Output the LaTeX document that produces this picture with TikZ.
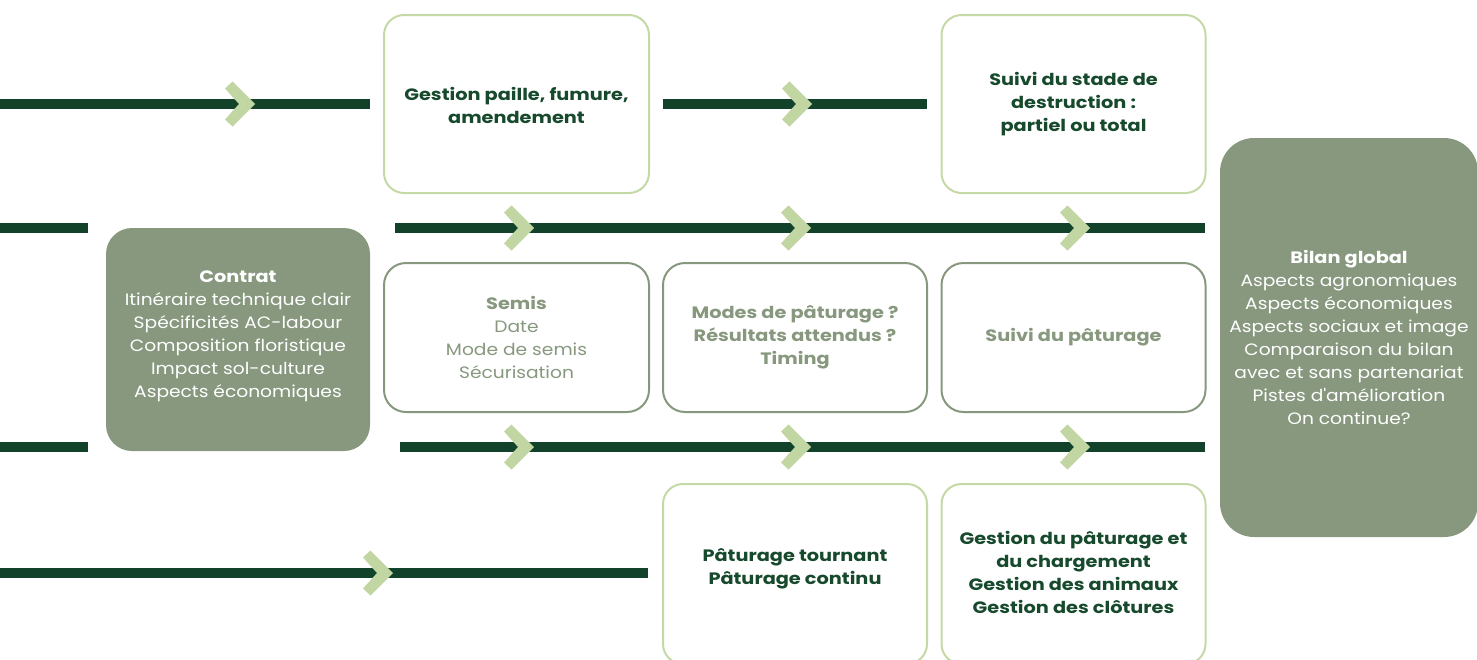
\documentclass[tikz,border=0pt]{standalone}
\usepackage{fontspec}
\setmainfont{Poppins}[FakeStretch=1.13, BoldFeatures={FakeStretch=1.17}]
\definecolor{bar}{HTML}{12432A}
\definecolor{chevc}{HTML}{C2D6A3}
\definecolor{lborder}{HTML}{C5D9A6}
\definecolor{sage}{HTML}{87987E}
\definecolor{dtext}{HTML}{174A2D}
\begin{document}
\begin{tikzpicture}[x=1pt,y=-1pt,
  every node/.style={font=\fontsize{16.5}{23}\selectfont, align=center, inner sep=0pt},
  lbox/.style={draw=lborder, line width=2pt, fill=white, rounded corners=20pt, text=dtext, font=\fontsize{16.5}{23}\selectfont\bfseries},
  sbox/.style={draw=sage, line width=2pt, fill=white, rounded corners=22pt, text=sage},
  fbox/.style={fill=sage, rounded corners=26pt, text=white},
  dtxt/.style={text=dtext, font=\fontsize{16.5}{23}\selectfont\bfseries},
  barline/.style={draw=bar, line width=10pt, line cap=butt},
  chev/.pic={\fill[chevc] (0,0) -- (-22.5,-22.5) -- (-30,-15.5) -- (-16,0) -- (-30,15.5) -- (-22.5,22.5) -- cycle;}
]
\useasboundingbox (0,0) rectangle (1477,659);

% bars
\draw[barline] (0,104) -- (370,104);
\draw[barline] (663,104) -- (927,104);
\draw[barline] (0,228) -- (88,228);
\draw[barline] (395,228) -- (1205,228);
\draw[barline] (0,447) -- (88,447);
\draw[barline] (400,447) -- (1205,447);
\draw[barline] (0,573) -- (648,573);

% chevrons
\pic at (255,104) {chev};
\pic at (812,104) {chev};
\pic at (534,228) {chev};
\pic at (811,228) {chev};
\pic at (1090,228) {chev};
\pic at (534,447) {chev};
\pic at (811,447) {chev};
\pic at (1090,447) {chev};
\pic at (393,573) {chev};

% top boxes
\node[lbox, minimum width=265, minimum height=178] (paille) at (516.5,104) {};
\node[dtxt] (pailletxt) at (516.5,105.5) {Gestion paille, fumure,\\amendement};
\node[lbox, minimum width=264, minimum height=178] (destr) at (1073.5,104)
  {Suivi du stade de\\destruction :\\partiel ou total};

% contrat
\node[fbox, minimum width=264, minimum height=223] (contrat) at (238,339.5) {};
\node[text=white] (contrattxt) at (238,336.5)
  {\textbf{Contrat}\\Itinéraire technique clair\\Spécificités AC-labour\\Composition floristique\\Impact sol-culture\\Aspects économiques};

% middle boxes
\node[sbox, minimum width=265, minimum height=149] (semis) at (516.5,337.5)
  {\textbf{Semis}\\Date\\Mode de semis\\Sécurisation};
\node[sbox, minimum width=264, minimum height=149, font=\fontsize{16.5}{23}\selectfont\bfseries] (modes) at (795,337.5)
  {Modes de pâturage ?\\Résultats attendus ?\\Timing};
\node[sbox, minimum width=264, minimum height=149, font=\fontsize{16.5}{23}\selectfont\bfseries] (suivi) at (1073.5,337.5)
  {Suivi du pâturage};

% bottom boxes
\node[lbox, minimum width=264, minimum height=180] (tournant) at (795,574) {};
\node[dtxt] (tournanttxt) at (795,569)
  {Pâturage tournant\\Pâturage continu};
\node[lbox, minimum width=264, minimum height=180] (gestion) at (1073.5,574) {};
\node[dtxt] (gestiontxt) at (1073.5,572.5)
  {Gestion du pâturage et\\du chargement\\Gestion des animaux\\Gestion des clôtures};

% bilan
\node[fbox, rounded corners=34pt, minimum width=258, minimum height=399] (bilan) at (1349,337.5)
  {\textbf{Bilan global}\\Aspects agronomiques\\Aspects économiques\\Aspects sociaux et image\\Comparaison du bilan\\avec et sans partenariat\\Pistes d\textquotesingle amélioration\\On continue?};
\end{tikzpicture}
\end{document}
